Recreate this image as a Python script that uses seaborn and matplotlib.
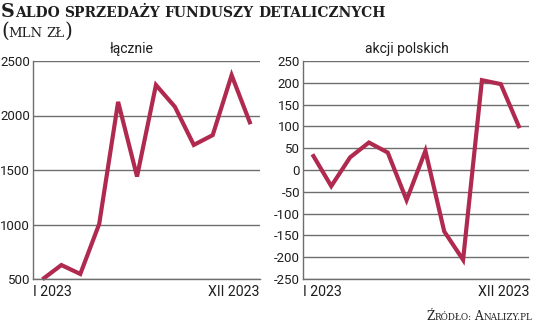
import matplotlib
matplotlib.use("Agg")
import matplotlib.pyplot as plt
import seaborn as sns
import pandas as pd

months = ["I", "II", "III", "IV", "V", "VI", "VII", "VIII", "IX", "X", "XI", "XII"]
total = [497, 628, 546, 1005, 2125, 1440, 2280, 2080, 1730, 1820, 2370, 1920]
polish = [36, -37, 29, 63, 40, -69, 44, -141, -206, 206, 197, 96]
panel_titles = ["łącznie", "akcji polskich"]
x_labels = ["I 2023", "XII 2023"]
left_ticks = [500, 1000, 1500, 2000, 2500]
right_ticks = [-250, -200, -150, -100, -50, 0, 50, 100, 150, 200, 250]
title = "Saldo sprzedaży funduszy detalicznych"
unit = "(mln zł)"
source = "Źródło: Analizy.pl"

W, H = 536, 325
sns.set_theme(style="white")
plt.rcParams['font.family'] = ['Roboto', 'DejaVu Sans']

LINE = "#B02A50"
GRID = "#6e6e6e"
TXT = "#1e1e1e"

fig = plt.figure(figsize=(W / 100, H / 100), dpi=100)
fig.patch.set_facecolor("white")

def px_axes(l, t, r, b):
    return fig.add_axes([l / W, 1 - b / H, (r - l) / W, (b - t) / H])

ax1 = px_axes(33, 61, 260, 279)
ax2 = px_axes(303, 61, 529, 279)

df = pd.DataFrame({"month": months, "idx": range(len(months)),
                   "total": total, "polish": polish})

for ax, col, ticks in [(ax1, "total", left_ticks), (ax2, "polish", right_ticks)]:
    sns.lineplot(data=df, x="idx", y=col, ax=ax, color=LINE, linewidth=3.0,
                 clip_on=False, solid_joinstyle="miter", solid_capstyle="butt")
    ax.set_xlim(-0.5, 11.5)
    ax.set_ylim(ticks[0], ticks[-1])
    ax.set_yticks(ticks)
    ax.set_yticklabels([str(t) for t in ticks], fontsize=9.5, color=TXT)
    ax.set_xticks([-0.5, 11.5])
    ax.set_xticklabels(x_labels, fontsize=10.2, color=TXT)
    lbls = ax.get_xticklabels()
    lbls[0].set_ha("left")
    lbls[1].set_ha("right")
    ax.tick_params(axis="both", length=0)
    ax.tick_params(axis="y", pad=2)
    ax.tick_params(axis="x", pad=4.5)
    ax.grid(axis="y", color=GRID, linewidth=1.0)
    ax.set_axisbelow(True)
    for s in ["top", "right"]:
        ax.spines[s].set_visible(False)
    for s in ["left", "bottom"]:
        ax.spines[s].set_color(GRID)
        ax.spines[s].set_linewidth(1.0)
    ax.set_xlabel("")
    ax.set_ylabel("")

fig.text(132 / W, 1 - 53 / H, panel_titles[0], ha="center", va="baseline",
         fontsize=10, color=TXT)
fig.text(407 / W, 1 - 53 / H, panel_titles[1], ha="center", va="baseline",
         fontsize=10, color=TXT)

renderer = fig.canvas.get_renderer()

def smallcaps(x, y, parts, target_w, ha="left", **kw):
    def draw(scale):
        texts = []
        cur = x
        for s, size in parts:
            if s == " ":
                cur += size * scale
                continue
            t = fig.text(cur / W, 1 - y / H, s, fontsize=size * scale,
                         va="baseline", ha="left", **kw)
            cur += t.get_window_extent(renderer).width
            texts.append(t)
        return texts, cur - x
    texts, w = draw(1.0)
    for t in texts:
        t.remove()
    texts, w = draw(target_w / w)
    if ha == "right":
        for t in texts:
            px, py = t.get_position()
            t.set_position((px - w / W, py))
    return texts

def sc_parts(text, big, small, gap):
    parts = []
    for i, w in enumerate(text.split(" ")):
        if i > 0:
            parts.append((" ", gap))
        start = 0
        for j, ch in enumerate(w):
            pass
        # split into runs of uppercase (big) and lowercase (small)
        run, run_big = "", None
        for ch in w:
            is_big = ch.isupper() or (not ch.isalpha() and ch not in ".:")
            if ch in "()":
                is_big = True
            if run_big is None or is_big == run_big:
                run += ch
                run_big = is_big
            else:
                parts.append((run.upper(), big if run_big else small))
                run, run_big = ch, is_big
        if run:
            parts.append((run.upper(), big if run_big else small))
    return parts

serif_b = dict(family="DejaVu Serif", weight="bold", color=TXT)
serif = dict(family="DejaVu Serif", color=TXT)

smallcaps(1, 17, sc_parts(title, 12, 8.7, 4), 385, **serif_b)
smallcaps(1, 37, sc_parts(unit, 13, 8.7, 3), 71, **serif)
smallcaps(532, 320, sc_parts(source, 9.5, 7, 3), 107, ha="right", **serif)

fig.savefig("out.png", dpi=100)
